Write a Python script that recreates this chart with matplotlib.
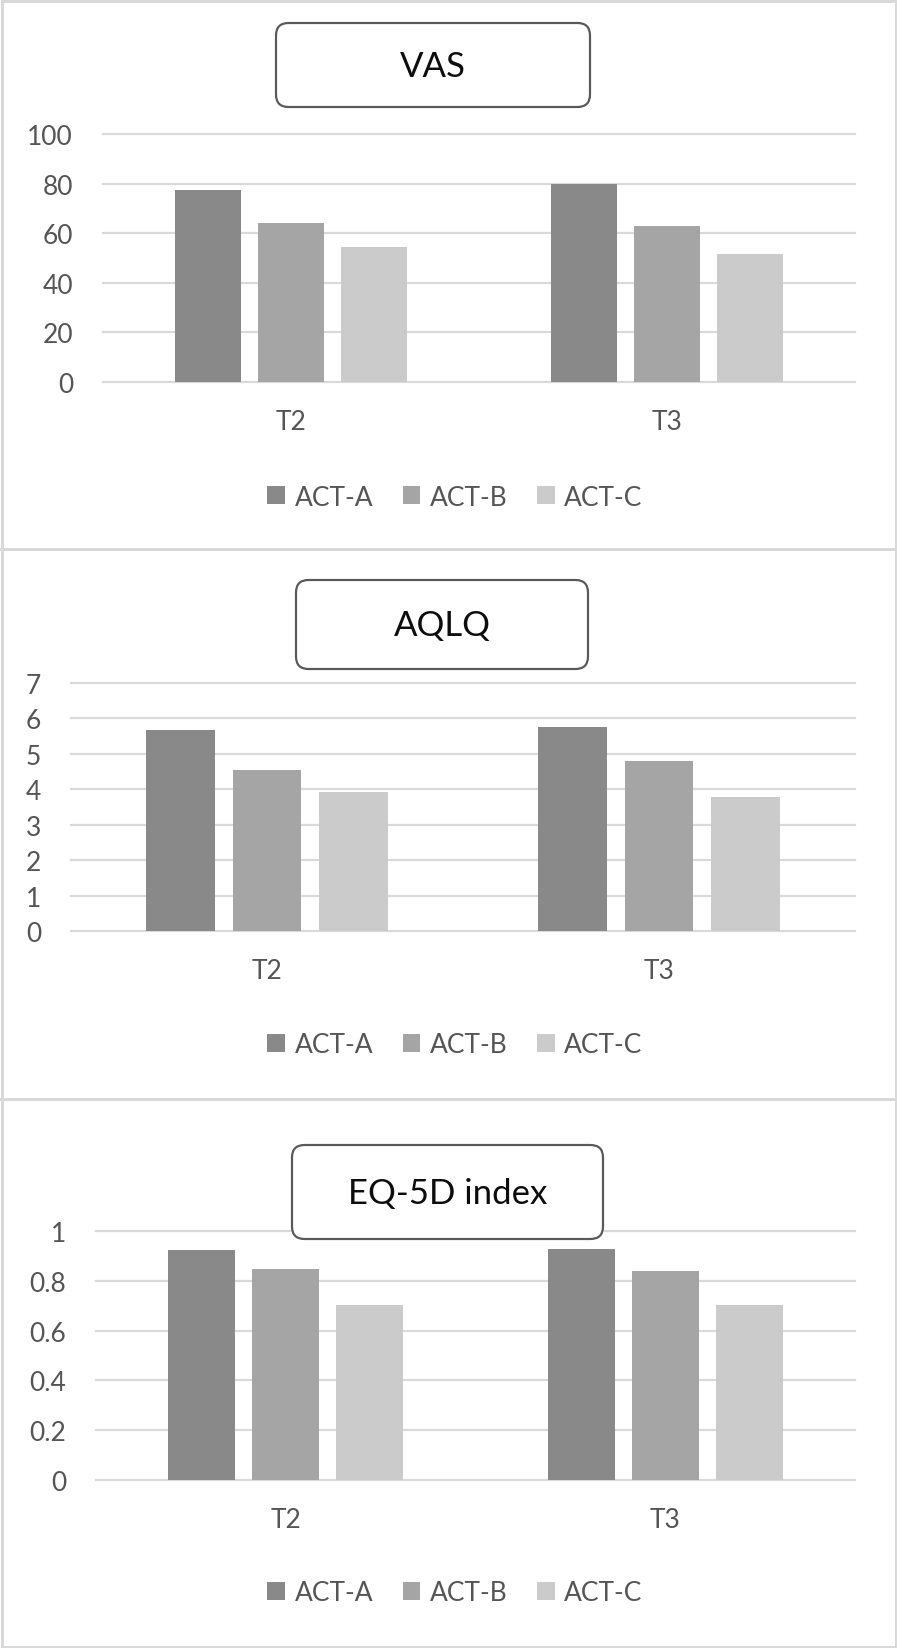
import numpy as np
import matplotlib
matplotlib.use("Agg")
import matplotlib.pyplot as plt
from matplotlib.patches import FancyBboxPatch, Rectangle
from matplotlib.lines import Line2D

# ---- data ----
categories = ["T2", "T3"]
series_names = ["ACT-A", "ACT-B", "ACT-C"]
vas_a = [77.4, 80.0]
vas_b = [64.3, 62.9]
vas_c = [54.5, 51.6]
aqlq_a = [5.66, 5.75]
aqlq_b = [4.54, 4.81]
aqlq_c = [3.93, 3.78]
eq_a = [0.922, 0.928]
eq_b = [0.846, 0.840]
eq_c = [0.701, 0.704]
titles = ["VAS", "AQLQ", "EQ-5D index"]
vas_ticks = [0, 20, 40, 60, 80, 100]
aqlq_ticks = [0, 1, 2, 3, 4, 5, 6, 7]
eq_ticks = [0, 0.2, 0.4, 0.6, 0.8, 1.0]
eq_ticklabels = ["0", "0.2", "0.4", "0.6", "0.8", "1"]

colors = ["#898989", "#a5a5a5", "#cbcbcb"]
grid_c = "#d9d9d9"
text_c = "#555555"

plt.rcParams["font.family"] = ["Lato", "DejaVu Sans"]

W, H = 897, 1649
DPI = 100
fig = plt.figure(figsize=(W / DPI, H / DPI), dpi=DPI)
PT = 72.0 / DPI  # points per pixel


def fx(x):
    return x / W


def fy(y):
    return 1 - y / H


panels = [
    dict(vals=[vas_a, vas_b, vas_c], ticks=vas_ticks, labels=[str(t) for t in vas_ticks],
         ax=(103, 855, 135, 383), tbox=(276, 590, 24, 108), leg_y=498),
    dict(vals=[aqlq_a, aqlq_b, aqlq_c], ticks=aqlq_ticks, labels=[str(t) for t in aqlq_ticks],
         ax=(71, 855, 684, 932), tbox=(296, 588, 581, 670), leg_y=1046),
    dict(vals=[eq_a, eq_b, eq_c], ticks=eq_ticks, labels=eq_ticklabels,
         ax=(96, 855, 1232, 1481), tbox=(292, 603, 1146, 1240), leg_y=1594),
]

x = np.arange(len(categories))
width = 0.176
offsets = [-0.221, 0.0, 0.221]

for i, p in enumerate(panels):
    l, r, t, b = p["ax"]
    ax = fig.add_axes([fx(l), fy(b), (r - l) / W, (b - t) / H])
    handles = []
    for k in range(3):
        bars = ax.bar(x + offsets[k], p["vals"][k], width=width, color=colors[k],
                      zorder=3, label=series_names[k])
        handles.append(bars)
    ax.set_xlim(-0.5, 1.5)
    ax.set_ylim(p["ticks"][0], p["ticks"][-1])
    for tv in p["ticks"]:
        ax.axhline(tv, color=grid_c, lw=2.2 * PT, zorder=1, clip_on=False)
    ax.set_yticks(p["ticks"])
    ax.set_yticklabels(p["labels"])
    ax.set_xticks(x)
    ax.set_xticklabels(categories)
    ax.tick_params(axis="y", length=0, pad=30 * PT, labelsize=19, labelcolor=text_c)
    ax.tick_params(axis="x", length=0, pad=27 * PT, labelsize=19, labelcolor=text_c)
    for s in ax.spines.values():
        s.set_visible(False)
    ax.patch.set_visible(False)

    fig.legend(handles=handles, labels=series_names, loc="center",
               bbox_to_anchor=(fx(455), fy(p["leg_y"])), ncol=3, frameon=False,
               fontsize=19, labelcolor=text_c, handlelength=0.68, handleheight=0.68,
               handletextpad=0.36, columnspacing=1.1, borderpad=0)

    tl, tr, tt, tb = p["tbox"]
    box = FancyBboxPatch((fx(tl), fy(tb)), (tr - tl) / W, (tb - tt) / H,
                         boxstyle="round,pad=0,rounding_size=0.014",
                         transform=fig.transFigure, facecolor="white",
                         edgecolor="#595959", lw=2.2 * PT, zorder=10,
                         mutation_aspect=W / H)
    fig.add_artist(box)
    fig.text(fx((tl + tr) / 2), fy((tt + tb) / 2 + 1), titles[i], ha="center",
             va="center", fontsize=25, color="#0d0d0d", zorder=11)

border_c = "#d9d9d9"
fig.add_artist(Rectangle((fx(1.5), fy(1647.5)), (W - 3) / W, (H - 3) / H,
                         transform=fig.transFigure, fill=False,
                         edgecolor=border_c, lw=3 * PT))
for yy in [549.5, 1099.5]:
    fig.add_artist(Line2D([0, 1], [fy(yy), fy(yy)], transform=fig.transFigure,
                          color=border_c, lw=3 * PT))

fig.savefig("out.png", dpi=DPI, facecolor="white")
